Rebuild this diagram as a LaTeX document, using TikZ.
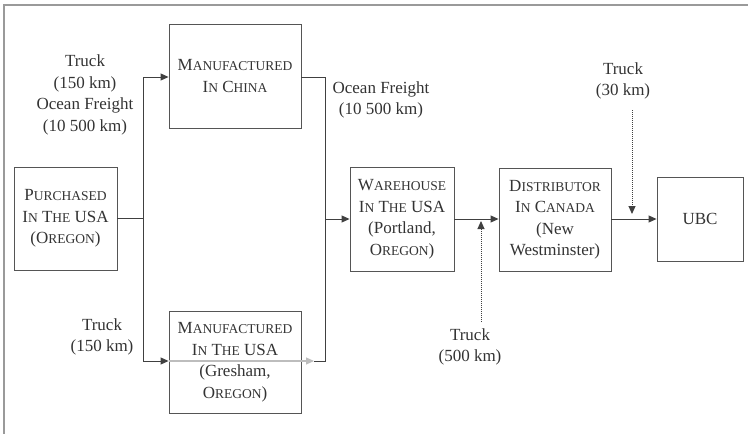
\documentclass[tikz,border=0pt]{standalone}
\usepackage{fontspec}
\setmainfont{Liberation Serif}
\usetikzlibrary{arrows.meta}
\definecolor{linec}{HTML}{404040}
\definecolor{boxc}{HTML}{555555}
\definecolor{txtc}{HTML}{333333}
\definecolor{framec}{HTML}{9A9A9A}
\definecolor{ghost}{HTML}{BDBDBD}
\newcommand\smc[2]{#1{\fontsize{13.5}{16}\selectfont #2}}
\tikzset{
  box/.style={draw=boxc, line width=0.9pt, align=center, inner sep=0pt, text=txtc,
    font=\fontsize{17}{21.5}\selectfont},
  lbl/.style={align=center, inner sep=0pt, text=txtc, font=\fontsize{17}{21.5}\selectfont},
  conn/.style={draw=linec, line width=0.9pt},
  arr/.style={conn, -{Triangle[length=8pt,width=7pt]}},
  dotarr/.style={draw=linec, line width=1pt, densely dotted, -{Triangle[length=8pt,width=7pt]}},
  ghostarr/.style={draw=ghost, line width=1.2pt, -{Triangle[length=8pt,width=7pt]}},
}
\begin{document}
\begin{tikzpicture}[x=1pt,y=-1pt]
\useasboundingbox (0,0) rectangle (748,434);
\draw[framec, line width=1.2pt] (4,434) -- (4,5) -- (748,5);

\node[box, minimum width=103pt, minimum height=103pt] (purchased) at (65.5,218.5)
  {\smc{P}{URCHASED}\\\smc{I}{N} \smc{T}{HE} USA\\(\smc{O}{REGON})};
\node[box, minimum width=132pt, minimum height=104pt] (china) at (235,76)
  {\smc{M}{ANUFACTURED}\\\smc{I}{N} \smc{C}{HINA}};
\node[box, minimum width=132pt, minimum height=102pt] (usamfg) at (235,362)
  {\smc{M}{ANUFACTURED}\\\smc{I}{N} \smc{T}{HE} USA\\(Gresham,\\\smc{O}{REGON})};
\node[box, minimum width=104pt, minimum height=104pt] (warehouse) at (402,219)
  {\smc{W}{AREHOUSE}\\\smc{I}{N} \smc{T}{HE} USA\\(Portland,\\\smc{O}{REGON})};
\node[box, minimum width=112pt, minimum height=103pt] (distrib) at (555,219.5)
  {\smc{D}{ISTRIBUTOR}\\\smc{I}{N} \smc{C}{ANADA}\\(New\\Westminster)};
\node[box, minimum width=86pt, minimum height=84pt] (ubc) at (700,219) {UBC};

\node[lbl] (lab1) at (85,95) {Truck\\(150 km)\\Ocean Freight\\(10 500 km)};
\node[lbl] (lab2) at (102,337) {Truck\\(150 km)};
\node[lbl] (lab3) at (381,100) {Ocean Freight\\(10 500 km)};
\node[lbl] (t500) at (470,347) {Truck\\(500 km)};
\node[lbl] (t30) at (623,81) {Truck\\(30 km)};

\coordinate (jl1) at (143,77);
\coordinate (jl2) at (143,361);
\coordinate (jr1) at (325,77);
\coordinate (jr2) at (325,361);
\coordinate (ge) at (314,361);
\coordinate (d500a) at (481,322);
\coordinate (d500b) at (481,221);
\coordinate (d30a) at (632,110);
\coordinate (d30b) at (632,214);

\draw[conn] (purchased.east) -- (purchased.east -| jl1);
\draw[conn] (jl1) -- (jl2);
\draw[arr] (jl1) -- (jl1 -| china.west);
\draw[arr] (jl2) -- (jl2 -| usamfg.west);
\draw[conn] (jl1 -| china.east) -- (jr1) -- (jr2) -- (ge);
\draw[ghostarr] (jl2 -| usamfg.west) -- (ge);
\draw[arr] (warehouse.west -| jr1) -- (warehouse.west);
\draw[arr] (warehouse.east) -- (warehouse.east -| distrib.west);
\draw[arr] (ubc.west -| distrib.east) -- (ubc.west);
\draw[dotarr] (d500a) -- (d500b);
\draw[dotarr] (d30a) -- (d30b);
\end{tikzpicture}
\end{document}
